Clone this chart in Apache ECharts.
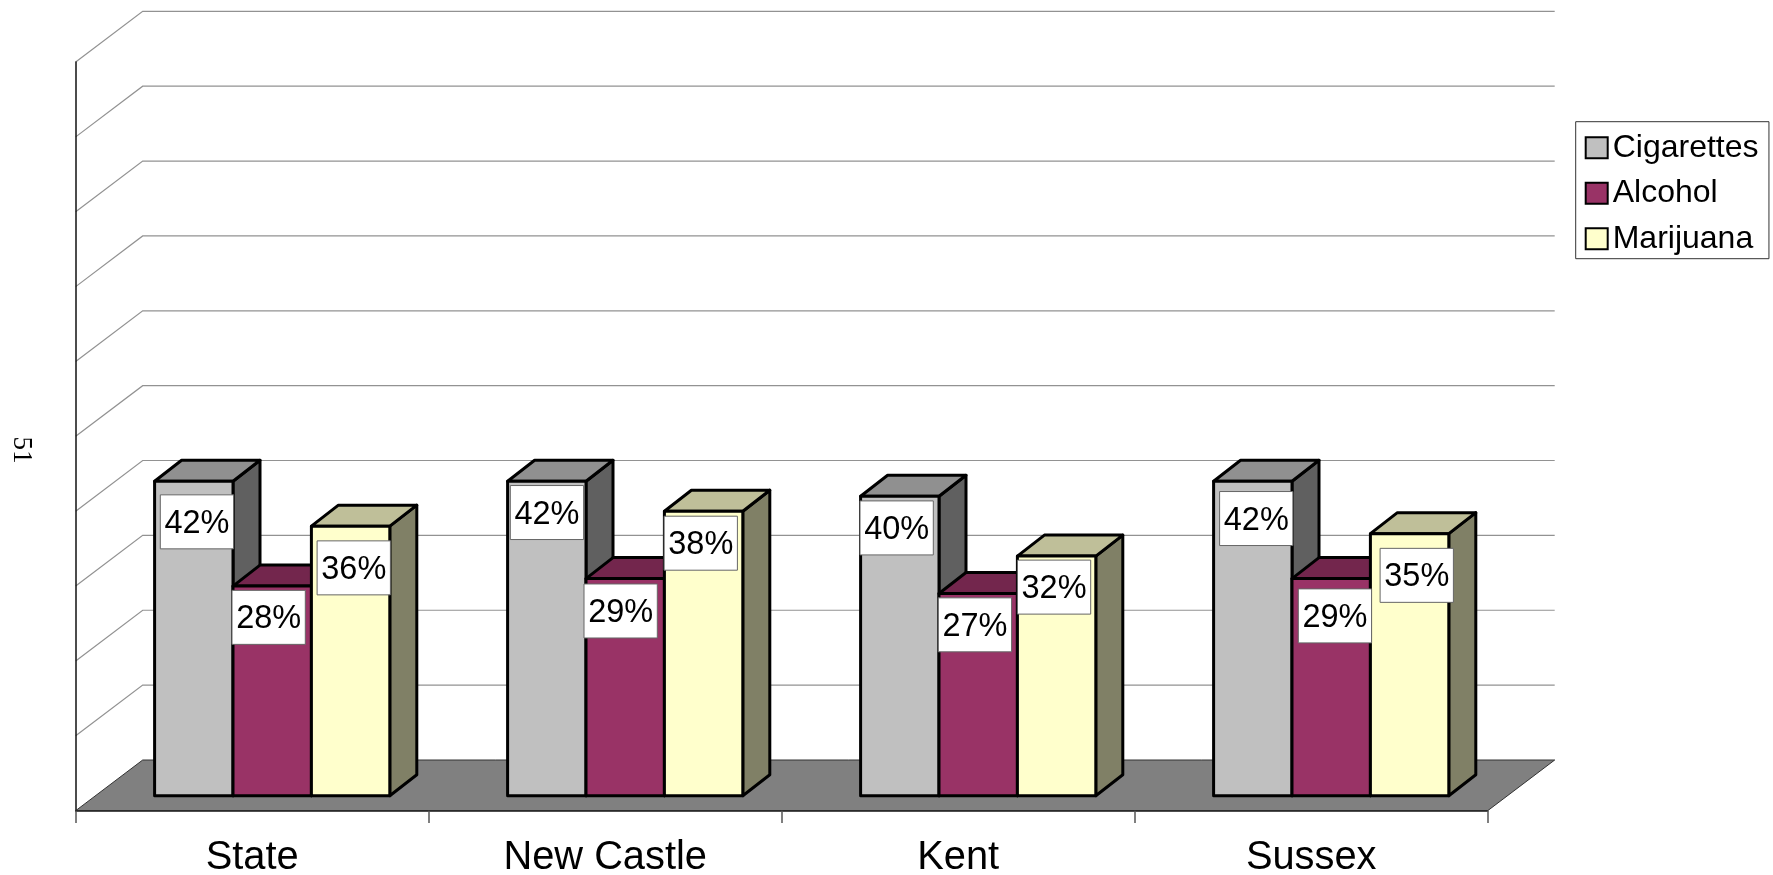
<!DOCTYPE html>
<html>
<head>
<meta charset="utf-8">
<style>html,body{margin:0;padding:0;background:#fff}#c{width:1773px;height:875px}</style>
<script src="https://cdn.jsdelivr.net/npm/echarts@6/dist/echarts.min.js"></script>
</head>
<body>
<div id="c"></div>
<script>
const categories = ['State', 'New Castle', 'Kent', 'Sussex'];
const cigarettes = [42, 42, 40, 42];
const alcohol = [28, 29, 27, 29];
const marijuana = [36, 38, 32, 35];
const yTicks = [10, 20, 30, 40, 50, 60, 70, 80, 90, 100];

const FONT = '"Liberation Sans", Arial, sans-serif';
const WALL = [67, -50.7];        // floor depth in px
const PLANE = [20, -15];         // bar front plane relative to floor front
const DEPTH = [27, -21];         // bar depth
const BAR_RATIO = 78.4 / 353;
const BOX_W = 73.3, BOX_H = 54;
const SHADES = [
  { name: 'Cigarettes', values: cigarettes, front: '#C0C0C0', top: '#909090', side: '#606060',
    off: [[5.7, 13.6], [2.7, 4.3], [-0.6, 4.7], [6, 10.3]] },
  { name: 'Alcohol', values: alcohol, front: '#993366', top: '#73264D', side: '#4D1A33',
    off: [[-1, 4.3], [-2, 5.4], [-0.7, 4.3], [6.3, 10.3]] },
  { name: 'Marijuana', values: marijuana, front: '#FFFFCC', top: '#BFBF99', side: '#808066',
    off: [[5.7, 14.7], [-0.3, 5], [0, 4], [9.7, 14.7]] }
];

const chart = echarts.init(document.getElementById('c'), null, { renderer: 'canvas' });

function poly(points, fill, z2, stroke, lw) {
  return { type: 'polygon', z2, shape: { points },
    style: { fill, stroke: stroke || '#000', lineWidth: lw === undefined ? 3 : lw, lineJoin: 'round' } };
}

function barRender(s) {
  return function (params, api) {
    const c = api.value(0), v = api.value(1);
    const top = api.coord([c, v]), base = api.coord([c, 0]);
    const w = api.size([1, 0])[0] * BAR_RATIO;
    const x0 = top[0] + PLANE[0] + (s - 1.5) * w, x1 = x0 + w;
    const yt = top[1] + PLANE[1], yb = base[1] + PLANE[1];
    const dx = DEPTH[0], dy = DEPTH[1];
    const st = SHADES[s];
    const off = st.off[params.dataIndex];
    const bx = x0 + off[0], by = yt + off[1];
    return { type: 'group', children: [
      poly([[x1, yt], [x1 + dx, yt + dy], [x1 + dx, yb + dy], [x1, yb]], st.side, 10 + s),
      poly([[x0, yt], [x0 + dx, yt + dy], [x1 + dx, yt + dy], [x1, yt]], st.top, 10 + s),
      poly([[x0, yt], [x1, yt], [x1, yb], [x0, yb]], st.front, 10 + s),
      { type: 'rect', z2: 100, shape: { x: bx, y: by, width: BOX_W, height: BOX_H },
        style: { fill: '#fff', stroke: '#666', lineWidth: 1 } },
      { type: 'text', z2: 101, style: { x: bx + BOX_W / 2, y: by + BOX_H / 2 + 2, text: v + '%',
        fill: '#000', font: '32.5px ' + FONT, align: 'center', verticalAlign: 'middle' } }
    ] };
  };
}

const option = {
  backgroundColor: '#fff',
  animation: false,
  textStyle: { fontFamily: FONT },
  graphic: [{
    type: 'text', x: 21.5, y: 450, rotation: -Math.PI / 2,
    style: { text: '51', font: '27px "Liberation Serif", serif', fill: '#000', align: 'center', verticalAlign: 'middle' }
  }],
  legend: {
    left: 1575.7, top: 121.7, orient: 'vertical',
    padding: [10, 10.4, 4, 9], itemGap: 13.5, itemWidth: 22, itemHeight: 21,
    backgroundColor: '#fff', borderColor: '#333', borderWidth: 1, borderRadius: 0,
    icon: 'rect',
    data: SHADES.map(s => s.name),
    textStyle: { fontSize: 32, color: '#000', fontFamily: FONT }
  },
  grid: { left: 75.7, top: 62, width: 1412, height: 748.7, containLabel: false, outerBoundsMode: 'none' },
  xAxis: {
    type: 'category', data: categories, boundaryGap: true, z: 5,
    axisLine: { lineStyle: { color: '#222', width: 1.5 } },
    axisTick: { show: true, length: 12.3, alignWithLabel: false, lineStyle: { color: '#555', width: 1.5 } },
    axisLabel: { fontSize: 39.8, color: '#000', margin: 27, fontFamily: FONT },
    splitLine: { show: false }
  },
  yAxis: {
    type: 'value', min: 0, max: 100, interval: 10, z: 5,
    axisLine: { show: true, lineStyle: { color: '#111', width: 1.5 } },
    axisTick: { show: false }, axisLabel: { show: false }, splitLine: { show: false }
  },
  series: [
    {
      type: 'custom', name: 'floor', z: 1, silent: true, clip: false,
      data: [[0, 0]], encode: { x: 0, y: 1 },
      renderItem(params, api) {
        const y = api.coord([0, 0])[1], x0 = params.coordSys.x, x1 = x0 + params.coordSys.width;
        return poly([[x0, y], [x0 + WALL[0], y + WALL[1]], [x1 + WALL[0], y + WALL[1]], [x1, y]], '#808080', 1, '#333', 1);
      }
    },
    {
      type: 'custom', name: 'walls', z: 1, silent: true, clip: false,
      data: yTicks.map(v => [0, v]), encode: { x: 0, y: 1 },
      renderItem(params, api) {
        const y = api.coord([0, api.value(1)])[1], x0 = params.coordSys.x, x1 = x0 + params.coordSys.width;
        return { type: 'polyline', z2: 2,
          shape: { points: [[x0, y], [x0 + WALL[0], y + WALL[1]], [x1 + WALL[0], y + WALL[1]]] },
          style: { fill: null, stroke: '#929292', lineWidth: 1.2 } };
      }
    }
  ].concat(SHADES.map((s, i) => ({
    type: 'custom', name: s.name, z: 2, clip: false,
    data: s.values.map((v, c) => [c, v]), encode: { x: 0, y: 1 },
    itemStyle: { color: s.front, borderColor: '#000', borderWidth: 3 },
    renderItem: barRender(i)
  })))
};
chart.setOption(option);
</script>
</body>
</html>
